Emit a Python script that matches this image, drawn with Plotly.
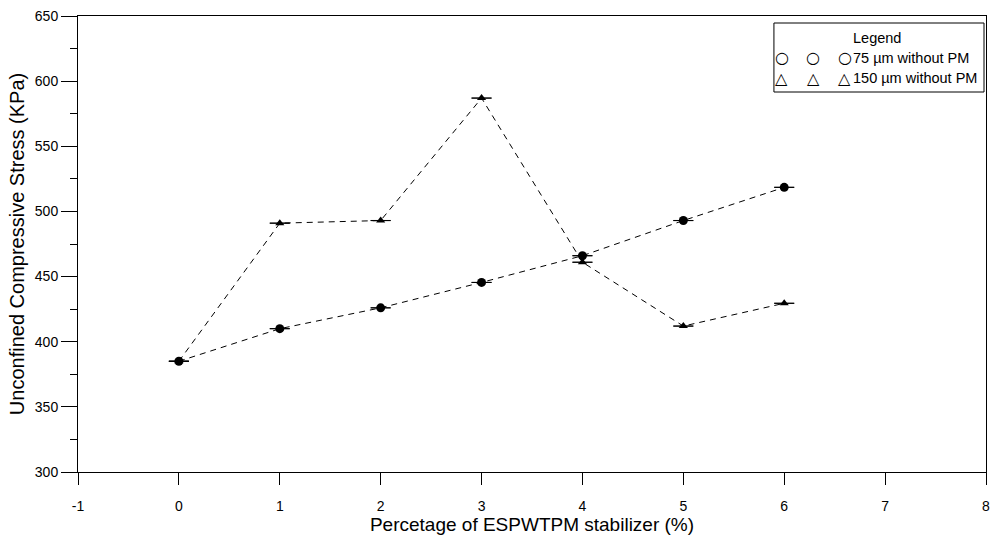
import plotly.graph_objects as go

stabilizer_pct = [0, 1, 2, 3, 4, 5, 6]
ucs_75um = [385, 410, 426, 445.5, 466, 493, 518.5]
ucs_150um = [385, 491, 493, 587, 461, 412, 429.5]
err_75um = [0.05] * 7
err_150um = [0.05] * 7

x_ticks = [-1, 0, 1, 2, 3, 4, 5, 6, 7, 8]
y_ticks = [300, 350, 400, 450, 500, 550, 600, 650]

legend_title = "Legend"
legend_labels = ["75 µm without PM", "150 µm without PM"]
legend_symbols = ["○", "△"]

FONT = "Arial, Liberation Sans, sans-serif"
SYM_FONT = "DejaVu Sans"

# plot-area pixel geometry (for placing the legend frame in paper coords)
L, R, T, B = 78, 990, 16, 472
W, H = 995, 536
def px(xp):
    return (xp - L) / (R - L)
def py(yp):
    return (B - yp) / (B - T)

fig = go.Figure()
fig.add_trace(go.Scatter(
    x=stabilizer_pct, y=ucs_150um, mode="lines+markers", name=legend_labels[1],
    line=dict(color="black", width=1, dash="6px,5px"),
    marker=dict(symbol="triangle-up", size=8, color="black"),
    error_y=dict(type="data", array=err_150um, visible=True, width=10, thickness=1, color="black"),
    showlegend=False,
))
fig.add_trace(go.Scatter(
    x=stabilizer_pct, y=ucs_75um, mode="lines+markers", name=legend_labels[0],
    line=dict(color="black", width=1, dash="6px,5px"),
    marker=dict(symbol="circle", size=9, color="black"),
    error_y=dict(type="data", array=err_75um, visible=True, width=10, thickness=1, color="black"),
    showlegend=False,
))

# legend frame
fig.add_shape(type="rect", xref="paper", yref="paper",
              x0=px(777), x1=px(988), y0=py(92), y1=py(23),
              line=dict(color="black", width=1), fillcolor="white", layer="above")
fig.add_annotation(xref="paper", yref="paper", x=px(881), y=py(38), xanchor="center", yanchor="middle",
                   text=legend_title, showarrow=False, font=dict(family=FONT, size=14.5, color="black"))
row_y = [58, 78]
sym_x = [785, 816.5, 848]
for i, (lab, sym) in enumerate(zip(legend_labels, legend_symbols)):
    for sx in sym_x:
        fig.add_annotation(xref="paper", yref="paper", x=px(sx), y=py(row_y[i]),
                           xanchor="center", yanchor="middle", text="<b>" + sym + "</b>", showarrow=False,
                           font=dict(family=SYM_FONT, size=16, color="black"))
    fig.add_annotation(xref="paper", yref="paper", x=px(854), y=py(row_y[i]),
                       xanchor="left", yanchor="middle", text=lab, showarrow=False,
                       font=dict(family=FONT, size=14.5, color="black"))

fig.update_layout(
    width=W, height=H,
    margin=dict(l=L, r=W - R, t=T, b=H - B),
    paper_bgcolor="white", plot_bgcolor="white",
    font=dict(family=FONT, size=14, color="black"),
    xaxis=dict(
        range=[-1, 8], tickvals=x_ticks, ticktext=[str(v) for v in x_ticks],
        showgrid=False, zeroline=False,
        showline=True, linecolor="black", linewidth=1, mirror=True,
        ticks="outside", ticklen=12, tickcolor="black", tickwidth=1,
        ticklabelstandoff=9,
        tickfont=dict(size=14),
        title=dict(text="Percetage of ESPWTPM stabilizer (%)", font=dict(size=19), standoff=2),
    ),
    yaxis=dict(
        range=[300, 650], tickvals=y_ticks,
        showgrid=False, zeroline=False,
        showline=True, linecolor="black", linewidth=1, mirror=True,
        ticks="outside", ticklen=16, tickcolor="black", tickwidth=1,
        tickfont=dict(size=14),
        minor=dict(dtick=25, ticks="outside", ticklen=7, tickcolor="black", showgrid=False),
        title=dict(text="Unconfined Compressive Stress (KPa)", font=dict(size=20), standoff=4),
    ),
)

fig.write_html("out.html")
